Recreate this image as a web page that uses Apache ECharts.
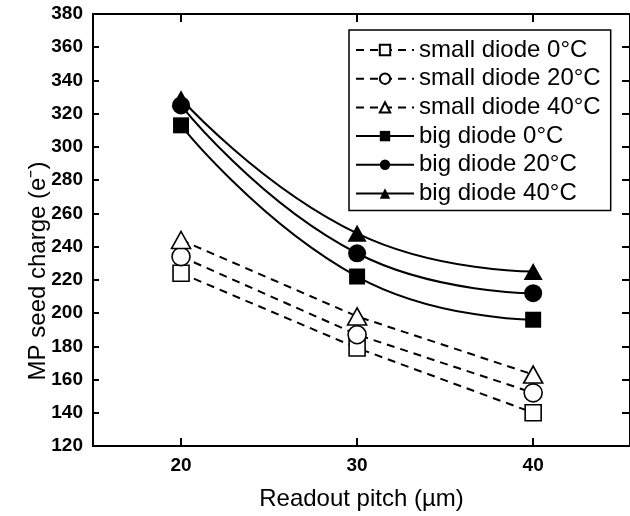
<!DOCTYPE html>
<html>
<head>
<meta charset="utf-8">
<script src="https://cdn.jsdelivr.net/npm/echarts@6/dist/echarts.min.js"></script>
<style>html,body{margin:0;padding:0;background:#fff}#c{width:630px;height:516px}</style>
</head>
<body>
<div id="c"></div>
<script>
const pitches = [20, 30, 40];
const xTicks = [20, 30, 40];
const smallDiode0 = [224, 179, 140];
const smallDiode20 = [234, 187, 152];
const smallDiode40 = [244, 198, 163];
const bigDiode0 = [313, 222, 196];
const bigDiode20 = [325, 236, 212];
const bigDiode40 = [329, 248, 225];
const seriesNames = ['small diode 0°C', 'small diode 20°C', 'small diode 40°C', 'big diode 0°C', 'big diode 20°C', 'big diode 40°C'];
const seriesValues = [smallDiode0, smallDiode20, smallDiode40, bigDiode0, bigDiode20, bigDiode40];
const symbols = ['rect', 'circle', 'triangle', 'rect', 'circle', 'triangle'];
const filled = [false, false, false, true, true, true];
const yTitle = 'MP seed charge (e⁻)';
const xTitle = 'Readout pitch (µm)';

const font = '"Liberation Sans", Arial, sans-serif';
const series = seriesNames.map((name, i) => ({
  name: name,
  type: 'line',
  data: pitches.map((p, j) => [p, seriesValues[i][j]]),
  symbol: symbols[i],
  symbolSize: symbols[i] === 'triangle' ? [19, 17] : (symbols[i] === 'circle' ? 18 : 16),
  smooth: filled[i] ? 0.5 : false,
  lineStyle: { color: '#000', width: 2, type: filled[i] ? 'solid' : [8, 6] },
  itemStyle: { color: filled[i] ? '#000' : '#fff', borderColor: '#000', borderWidth: filled[i] ? 0 : 1.6 },
  emphasis: { disabled: true },
  z: 3
}));

const chart = echarts.init(document.getElementById('c'), null, { renderer: 'canvas' });
chart.setOption({
  animation: false,
  backgroundColor: '#fff',
  grid: { left: 93, top: 14, right: -3, bottom: 69 },
  legend: {
    data: seriesNames,
    orient: 'vertical',
    left: 349,
    top: 30,
    itemWidth: 58,
    itemHeight: 13,
    itemGap: 4.7,
    padding: [8, 10, 5, 6],
    borderColor: '#000',
    borderWidth: 1.5,
    backgroundColor: '#fff',
    textStyle: { fontFamily: font, fontSize: 24, lineHeight: 24, color: '#000' },
    selectedMode: false
  },
  graphic: [{
    type: 'text',
    x: 38, y: 271,
    rotation: Math.PI / 2,
    style: { text: yTitle, font: '24px ' + font, fill: '#000', align: 'center', verticalAlign: 'middle' }
  }],
  xAxis: [{
    type: 'value', min: 15, max: 45.5,
    name: xTitle, nameLocation: 'middle', nameGap: 41,
    nameTextStyle: { fontFamily: font, fontSize: 24, color: '#000' },
    axisLine: { lineStyle: { color: '#000', width: 2 } },
    axisTick: { inside: true, length: 8, customValues: xTicks, lineStyle: { color: '#000', width: 2 } },
    axisLabel: { customValues: xTicks, fontFamily: font, fontSize: 19, fontWeight: 'bold', color: '#000', margin: 10 },
    splitLine: { show: false }
  }, {
    type: 'value', min: 15, max: 45.5, position: 'top',
    axisLine: { lineStyle: { color: '#000', width: 2 } },
    axisTick: { inside: true, length: 8, customValues: xTicks, lineStyle: { color: '#000', width: 2 } },
    axisLabel: { show: false },
    splitLine: { show: false }
  }],
  yAxis: [{
    type: 'value', min: 120, max: 380, interval: 20,
    axisLine: { lineStyle: { color: '#000', width: 2 } },
    axisTick: { inside: true, length: 6, lineStyle: { color: '#000', width: 2 } },
    axisLabel: { fontFamily: font, fontSize: 19, fontWeight: 'bold', color: '#000', margin: 10 },
    splitLine: { show: false }
  }, {
    type: 'value', min: 120, max: 380, interval: 20, position: 'right',
    axisLine: { lineStyle: { color: '#000', width: 2 } },
    axisTick: { inside: true, length: 8, lineStyle: { color: '#000', width: 2 } },
    axisLabel: { show: false },
    splitLine: { show: false }
  }],
  series: series
});
</script>
</body>
</html>
